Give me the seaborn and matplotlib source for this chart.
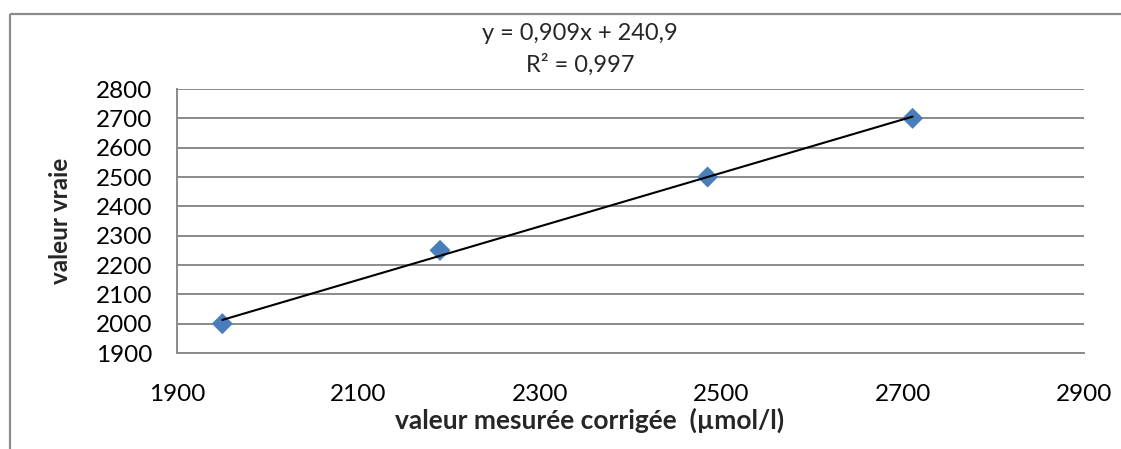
import matplotlib
matplotlib.use("Agg")
import matplotlib.pyplot as plt
import seaborn as sns
import numpy as np
import pandas as pd
from matplotlib.lines import Line2D

# Data
measured = [1950, 2190, 2485, 2711]
true_vals = [2000, 2250, 2500, 2700]
x_ticks = [1900, 2100, 2300, 2500, 2700, 2900]
y_ticks = [1900, 2000, 2100, 2200, 2300, 2400, 2500, 2600, 2700, 2800]
equation = "y = 0,909x + 240,9"
r2_text = "R² = 0,997"
x_label = "valeur mesurée corrigée  (µmol/l)"
y_label = "valeur vraie"

sns.set_style("white")
plt.rcParams['font.family'] = ['Lato', 'DejaVu Sans']

W, H = 1121, 449
fig = plt.figure(figsize=(W / 100, H / 100), dpi=100)
ax = fig.add_axes([177 / W, 1 - 353 / H, (1084 - 177) / W, (353 - 89) / H])

df = pd.DataFrame({"x": measured, "y": true_vals})
grid_c = "#8a8a8a"

sns.regplot(data=df, x="x", y="y", ax=ax, ci=None, marker="D", truncate=True,
            scatter_kws={"s": 115, "color": "#4A7EBB", "edgecolor": "none", "zorder": 3, "alpha": 1},
            line_kws={"color": "black", "lw": 1.5, "zorder": 4})

ax.set_xlim(1900, 2900)
ax.set_ylim(1900, 2800)
ax.set_xticks(x_ticks)
ax.set_yticks(y_ticks)
ax.yaxis.grid(True, color=grid_c, lw=1.4)
ax.xaxis.grid(False)
ax.set_axisbelow(True)
for s in ["top", "right"]:
    ax.spines[s].set_visible(False)
for s in ["left", "bottom"]:
    ax.spines[s].set_color(grid_c)
    ax.spines[s].set_linewidth(1.4)
ax.tick_params(axis="both", which="major", direction="out", length=6, width=1.4,
               color=grid_c, labelsize=17.5, labelcolor="black")
ax.tick_params(axis="y", pad=12)
ax.tick_params(axis="x", pad=16)
ax.set_xlabel("")
ax.set_ylabel("")

fig.text(590 / W, 1 - 420 / H, x_label, ha="center", va="center",
         fontsize=19, fontweight="bold")
fig.text(61 / W, 1 - 221 / H, y_label, ha="center", va="center",
         rotation=90, fontsize=17.5, fontweight="bold")
fig.text(580 / W, 1 - 33 / H, equation, ha="center", va="center", fontsize=17)
fig.text(580 / W, 1 - 65 / H, r2_text, ha="center", va="center", fontsize=17)

# outer chart frame (left and top edges visible)
fx = 9.5 / W
fy = 1 - 13.5 / H
fig.add_artist(Line2D([fx, fx], [0, fy], transform=fig.transFigure, color="#8c8c8c",
                      lw=1.6, solid_capstyle="butt"))
fig.add_artist(Line2D([fx, 1.02], [fy, fy], transform=fig.transFigure, color="#8c8c8c",
                      lw=1.6, solid_capstyle="butt"))

fig.savefig("out.png", dpi=100, facecolor="white")
